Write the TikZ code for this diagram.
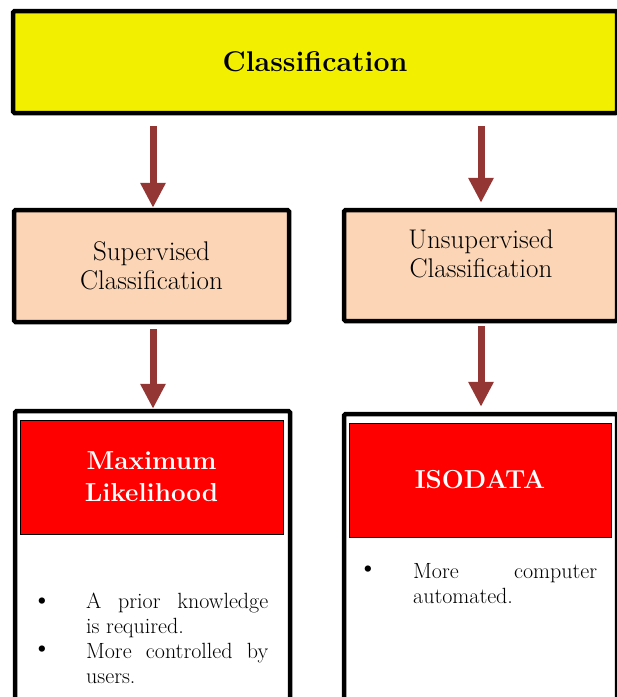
\documentclass[tikz,border=0pt]{standalone}
\usetikzlibrary{arrows.meta,calc}
\definecolor{arrred}{HTML}{943634}
\definecolor{ylw}{HTML}{F2F000}
\definecolor{peach}{HTML}{FBD5B5}
\definecolor{boxred}{HTML}{FF0000}
\begin{document}
\begin{tikzpicture}[x=1pt,y=-1pt,
  bigbox/.style={draw=black, line width=4.5pt, rounded corners=1.5pt, inner sep=0pt, anchor=center},
  redbox/.style={draw=black, line width=1pt, fill=boxred, text=white, align=center, inner sep=0pt, anchor=center,
     font=\fontsize{26}{32}\selectfont\bfseries},
  subtxt/.style={align=center, inner sep=0pt, font=\fontsize{27}{29.5}\selectfont},
  arr/.style={draw=arrred, line width=7pt, -{Triangle[width=24pt,length=25pt]}},
  bul/.style={inner sep=0pt, font=\fontsize{28}{25}\selectfont},
  bultxt/.style={anchor=north west, inner sep=0pt, text width=182pt, align=justify, font=\fontsize{22}{25}\selectfont}
]
\clip (0,0) rectangle (617,697);
\useasboundingbox (0,0) rectangle (617,697);
\fill[white] (0,0) rectangle (617,697);

% top box
\node[bigbox, fill=ylw, minimum width=604pt, minimum height=102pt,
      font=\fontsize{28.5}{32}\selectfont\bfseries] (cls) at (315,62) {Classification};

% second row
\node[bigbox, fill=peach, minimum width=275pt, minimum height=112pt] (sup) at (151.5,266) {};
\node[subtxt] (suptxt) at (151.5,266) {Supervised\\Classification};
\node[bigbox, fill=peach, minimum width=273pt, minimum height=111pt] (unsup) at (480.5,265.5) {};
\node[subtxt] (unsuptxt) at (481,254) {Unsupervised\\Classification};

% lower boxes
\node[bigbox, fill=white, minimum width=275pt, minimum height=329pt] (mlbox) at (152.5,575.5) {};
\node[bigbox, fill=white, minimum width=273pt, minimum height=326pt] (isobox) at (480.5,577) {};
\node[redbox, minimum width=263pt, minimum height=114pt] (ml) at (151.5,477) {Maximum\\Likelihood};
\node[redbox, minimum width=262pt, minimum height=114pt] (iso) at (480,480) {ISODATA};

% arrows
\coordinate (s1) at (153,126);
\coordinate (s2) at (481,126);
\coordinate (s3) at (153,329);
\coordinate (s4) at (481,326);
\draw[arr] (s1) -- (s1 |- sup.north);
\draw[arr, shorten >=5pt] (s2) -- (s2 |- unsup.north);
\draw[arr] (s3) -- (s3 |- mlbox.north);
\draw[arr, shorten >=5pt] (s4) -- (s4 |- isobox.north);

% bullets
\node[bul] (b1) at (42,603) {\textbullet};
\node[bultxt] (t1) at (86,593) {\hyphenpenalty=10000 A prior knowledge\linebreak is required.};
\node[bul] (b2) at (42,651) {\textbullet};
\node[bultxt] (t2) at (86,643) {\hyphenpenalty=10000 More controlled by\linebreak users.};
\node[bul] (b3) at (368,571) {\textbullet};
\node[bultxt, text width=184pt] (t3) at (413,563) {\hyphenpenalty=10000 More computer\linebreak automated.};
\end{tikzpicture}
\end{document}
